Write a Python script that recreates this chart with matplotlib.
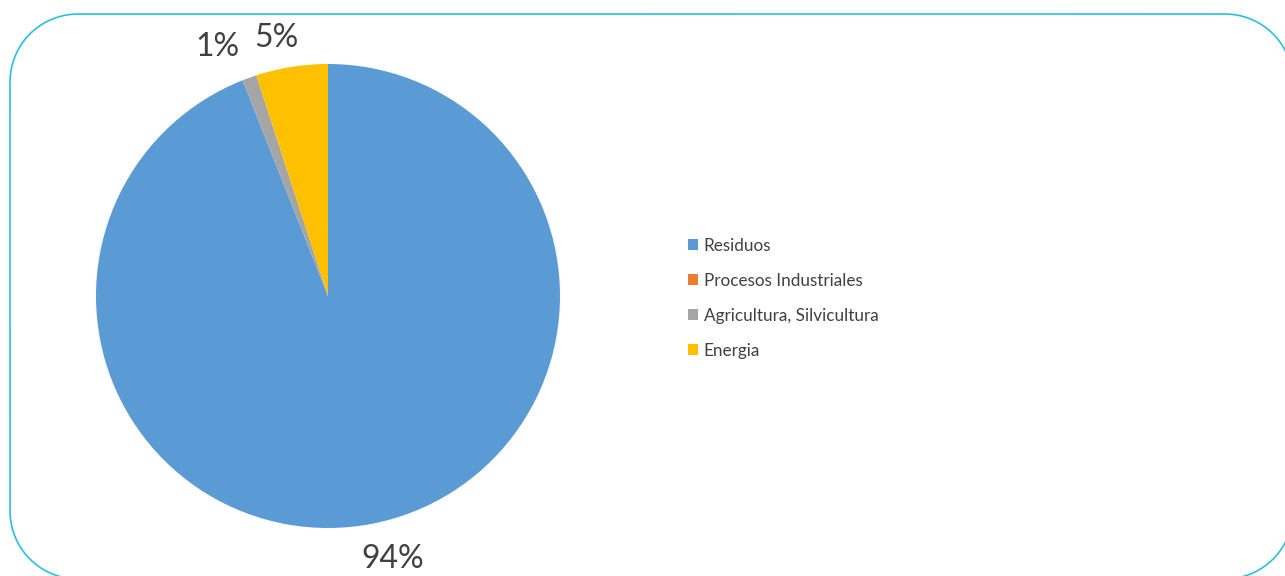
import matplotlib
matplotlib.use("Agg")
import numpy as np
import matplotlib.pyplot as plt
from matplotlib.lines import Line2D
from matplotlib.transforms import IdentityTransform

categorias = ["Residuos", "Procesos Industriales", "Agricultura, Silvicultura", "Energia"]
valores = [94, 0, 1, 5]
colores = ["#5B9BD5", "#ED7D31", "#A5A5A5", "#FFC000"]

plt.rcParams['font.family'] = ['Lato', 'DejaVu Sans']

W, H = 1285, 576
fig = plt.figure(figsize=(W / 100, H / 100), dpi=100)

# pie centre (328, 296) px from top-left, radius 232 px
R = 232
cx, cy = 328, 296
lim = 1.3
side = 2 * lim * R
ax = fig.add_axes([(cx - side / 2) / W, (H - cy - side / 2) / H, side / W, side / H])


def fmt(p):
    return f"{p:.0f}%" if p >= 0.5 else ""


wedges, texts, autotexts = ax.pie(valores, colors=colores, startangle=90, counterclock=False,
                                  autopct=fmt, pctdistance=1.17,
                                  textprops=dict(fontsize=23, color="#404040"))
# label positions (pixels from top-left of the image)
pos_px = {"94%": (393, 559), "1%": (217, 47), "5%": (276, 38)}
for t in autotexts:
    t.set_clip_on(False)
    if t.get_text() in pos_px:
        px, py = pos_px[t.get_text()]
        t.set_position(((px - cx) / R, (cy - py) / R))
        t.set_va("center")
        t.set_ha("center")
ax.set_xlim(-lim, lim)
ax.set_ylim(-lim, lim)
ax.set_aspect("equal")
ax.axis("off")

fig.legend(wedges, categorias, loc="upper left", bbox_to_anchor=(679 / W, 1 - 229 / H),
           frameon=False, fontsize=12.3, handlelength=0.6, handleheight=0.6,
           handletextpad=0.35, labelspacing=1.12, borderpad=0, labelcolor="#404040")

# rounded frame drawn in pixel coordinates
x0, x1, y0, y1, r = 10, 1293, H - 579, H - 14, 68
xs, ys = [], []
for (ccx, ccy, a0) in [(x1 - r, y1 - r, 0), (x0 + r, y1 - r, 90), (x0 + r, y0 + r, 180), (x1 - r, y0 + r, 270)]:
    a = np.radians(np.linspace(a0, a0 + 90, 40))
    xs.extend(ccx + r * np.cos(a))
    ys.extend(ccy + r * np.sin(a))
xs.append(xs[0])
ys.append(ys[0])
fig.add_artist(Line2D(xs, ys, transform=IdentityTransform(), color="#29C0E0", linewidth=1.2))

fig.savefig("out.png", dpi=100)
